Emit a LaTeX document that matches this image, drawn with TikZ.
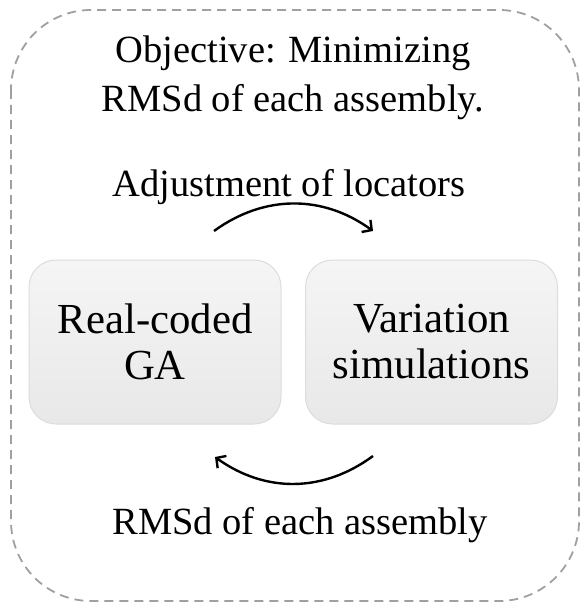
\documentclass[tikz,border=0pt]{standalone}
\usepackage{fontspec}
\setmainfont{Liberation Serif}
\usetikzlibrary{arrows.meta}
\definecolor{boxtop}{HTML}{F5F5F5}
\definecolor{boxbot}{HTML}{E8E8E8}
\definecolor{boxline}{HTML}{DCDCDC}
\definecolor{frameline}{HTML}{A0A0A0}
\tikzset{
  frame/.style={draw=frameline, line width=1.8pt, dash pattern=on 9pt off 6pt, rounded corners=80pt},
  procbox/.style={draw=boxline, line width=1pt, rounded corners=27pt, top color=boxtop, bottom color=boxbot,
    minimum width=252pt, minimum height=164pt, align=center, inner sep=0pt,
    font=\fontsize{42.8pt}{46pt}\selectfont},
  lbl/.style={anchor=base, inner sep=0pt, font=\fontsize{38.5pt}{46pt}\selectfont},
  cyc/.style={line width=2.4pt, -{Straight Barb[length=7pt,width=15pt,line width=2.4pt]}}
}
\begin{document}
\begin{tikzpicture}[x=1pt,y=-1pt]
\useasboundingbox (0,0) rectangle (580,607);
\draw[frame] (11,10) rectangle (579,601);
\node[lbl] (obj1) at (293,63) {Objective: Minimizing};
\node[lbl] (obj2) at (293,111) {RMSd of each assembly.};
\node[lbl] (adj) at (289,196) {Adjustment of locators};
\node[procbox] (ga) at (155,342) {Real-coded\\GA};
\node[procbox] (vs) at (431.5,342) {Variation\\simulations};
\node[lbl] (rms) at (300,534) {RMSd of each assembly};
\coordinate (t1) at (214,231);
\coordinate (t2) at (373,231);
\coordinate (b1) at (373,456);
\coordinate (b2) at (215,457);
\draw[cyc] (t1) to[bend left=36] (t2);
\draw[cyc] (b1) to[bend left=36] (b2);
\end{tikzpicture}
\end{document}
